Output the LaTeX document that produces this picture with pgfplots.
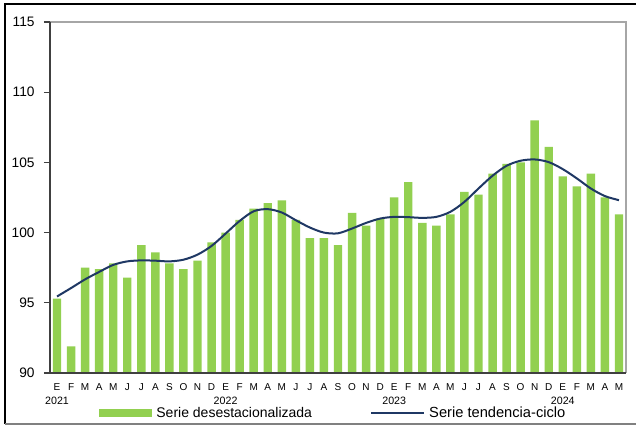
\documentclass[border=0pt]{standalone}
\usepackage{pgfplots}
\pgfplotsset{compat=1.18}
\usepackage{fontspec}
\setmainfont{Liberation Sans}
\definecolor{barg}{HTML}{92D050}
\definecolor{trend}{HTML}{1F3864}
\definecolor{axc}{HTML}{404040}
\pgfplotstableread{
x v t
0 95.3 95.45
1 91.9 96.05
2 97.5 96.67
3 97.4 97.20
4 97.8 97.70
5 96.8 97.95
6 99.1 98.02
7 98.6 98.00
8 97.8 97.95
9 97.4 98.07
10 98.0 98.43
11 99.3 99.05
12 100.0 99.93
13 100.9 100.83
14 101.7 101.52
15 102.1 101.67
16 102.3 101.43
17 100.9 100.88
18 99.6 100.36
19 99.6 100.00
20 99.1 99.95
21 101.4 100.29
22 100.5 100.69
23 101.0 101.00
24 102.5 101.12
25 103.6 101.10
26 100.7 101.05
27 100.5 101.12
28 101.3 101.48
29 102.9 102.19
30 102.7 103.14
31 104.2 104.05
32 104.9 104.76
33 105.0 105.12
34 108.0 105.21
35 106.1 105.02
36 104.0 104.52
37 103.3 103.86
38 104.2 103.14
39 102.5 102.60
40 101.3 102.31
}\datatab
\begin{document}
\begin{tikzpicture}
\useasboundingbox (0,0) rectangle (477pt,318.75pt);
\fill[white] (0,0) rectangle (477pt,318.75pt);
\begin{axis}[
  name=ax, at={(37.5pt,39pt)}, anchor=south west,
  width=432pt, height=263.25pt, scale only axis,
  xmin=-0.5, xmax=40.5, ymin=90, ymax=115,
  axis lines=left, axis line style={-, draw=axc, line width=0.8pt},
  ytick={90,95,...,115},
  y tick label style={font=\fontsize{10.3}{12}\selectfont, /pgf/number format/assume math mode=true, xshift=-3.5pt},
  ytick style={draw=axc, line width=0.8pt},
  major tick length=4.5pt, tick align=outside,
  xtick={0,...,40},
  xticklabels={E,F,M,A,M,J,J,A,S,O,N,D,E,F,M,A,M,J,J,A,S,O,N,D,E,F,M,A,M,J,J,A,S,O,N,D,E,F,M,A,M},
  x tick label style={font=\fontsize{7.5}{8}\selectfont, anchor=north, yshift=0pt},
  xtick style={draw=none},
  extra x ticks={11.5,23.5,35.5},
  extra x tick labels={},
  extra x tick style={tick style={draw=axc, line width=0.8pt}, major tick length=3pt},
  legend columns=2,
  legend style={draw=none, fill=none, at={(0.492,-0.114)}, anchor=center,
    font=\fontsize{10.5}{12.5}\selectfont,
    /tikz/every odd column/.append style={column sep=1.5pt},
    /tikz/every even column/.append style={column sep=42pt}},
]
\addplot[ybar, bar width=0.6, fill=barg, draw=none,
  legend image code/.code={\fill[barg] (0pt,-3.1pt) rectangle (39.75pt,2.9pt);}]
  table[x=x, y=v] {\datatab};
\addlegendentry{Serie desestacionalizada}
\addplot[trend, line width=1.5pt, smooth, mark=none,
  legend image code/.code={\draw[trend, line width=0.9pt] (0pt,0pt) -- (39.5pt,0pt);}]
  table[x=x, y=t] {\datatab};
\addlegendentry{\fontsize{11}{13}\selectfont Serie tendencia-ciclo}
\end{axis}
\draw[gray!70, line width=0.8pt] (ax.north west) -- (ax.north east) -- (ax.south east);
\draw[axc, line width=0.8pt] (ax.north west) -- (ax.south west) -- (ax.south east);
\begin{scope}[font=\fontsize{8}{9}\selectfont]
\node at (42.77pt,17.8pt) {2021};
\node at (169.2pt,17.8pt) {2022};
\node at (295.65pt,17.8pt) {2023};
\node at (422.1pt,17.8pt) {2024};
\end{scope}
\draw[black, line width=0.8pt] (3.75pt,0.75pt) -- (3.75pt,315.75pt) -- (480pt,315.75pt);
\draw[gray, line width=0.8pt] (3.75pt,0.75pt) -- (480pt,0.75pt);
\end{tikzpicture}
\end{document}
